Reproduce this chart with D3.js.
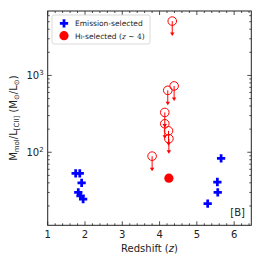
<!DOCTYPE html>
<html>
<head>
<meta charset="utf-8">
<script src="https://cdn.jsdelivr.net/npm/d3@7"></script>
<style>
body { margin: 0; background: #fff; }
text { font-family: "DejaVu Sans", sans-serif; fill: #222; }
</style>
</head>
<body>
<div id="chart"></div>
<script>
// emission-selected (blue crosses)
var emZ = [1.75, 1.86, 1.91, 1.82, 1.88, 1.95, 5.65, 5.55, 5.56, 5.29];
var emM = [53, 53, 40, 30, 27, 24.5, 83, 41, 30, 21.5];
// HI-selected upper limits (open circles + arrows)
var hiLimZ = [4.34, 4.39, 4.22, 4.14, 4.14, 4.24, 4.25, 3.8];
var hiLimM = [5100, 730, 640, 330, 235, 190, 150, 89];
// HI-selected detection
var hiDetZ = [4.25];
var hiDetM = [46];

var xTicks = [1, 2, 3, 4, 5, 6];
var yTicks = [100, 1000];

var W = 266, H = 266;
var pLeft = 47.7, pRight = 251.3, pTop = 11, pBottom = 225.3;

var svg = d3.select("#chart").append("svg")
    .attr("width", W)
    .attr("height", H);

var x = d3.scaleLinear().domain([1, 6.46]).range([pLeft, pRight]);
var y = d3.scaleLog().domain([11.2, 6900]).range([pBottom, pTop]);

// minor ticks
var xMinor = d3.range(1, 6.45, 0.2).filter(function(v) { return Math.abs(v - Math.round(v)) > 0.01; });
var yMinor = [];
[10, 100, 1000].forEach(function(d) {
    for (var k = 2; k <= 9; k++) {
        var v = d * k;
        if (v >= 11.2 && v <= 6900) yMinor.push(v);
    }
});

var ax = svg.append("g").attr("stroke", "#222").attr("stroke-width", 0.8);

function xTick(v, len) {
    ax.append("line").attr("x1", x(v)).attr("x2", x(v)).attr("y1", pBottom).attr("y2", pBottom - len);
    ax.append("line").attr("x1", x(v)).attr("x2", x(v)).attr("y1", pTop).attr("y2", pTop + len);
}
function yTick(v, len) {
    ax.append("line").attr("y1", y(v)).attr("y2", y(v)).attr("x1", pLeft).attr("x2", pLeft + len);
    ax.append("line").attr("y1", y(v)).attr("y2", y(v)).attr("x1", pRight).attr("x2", pRight - len);
}
xTicks.forEach(function(v) { xTick(v, 4); });
xMinor.forEach(function(v) { xTick(v, 2); });
yTicks.forEach(function(v) { yTick(v, 4); });
yMinor.forEach(function(v) { yTick(v, 2); });

svg.append("rect")
    .attr("x", pLeft).attr("y", pTop)
    .attr("width", pRight - pLeft).attr("height", pBottom - pTop)
    .attr("fill", "none").attr("stroke", "#222").attr("stroke-width", 1);

// tick labels
svg.selectAll(".xl").data(xTicks).enter().append("text")
    .attr("x", function(d) { return x(d); })
    .attr("y", pBottom + 13)
    .attr("text-anchor", "middle")
    .attr("font-size", 10)
    .text(function(d) { return d; });

svg.selectAll(".yl").data(yTicks).enter().append("text")
    .attr("x", pLeft - 4)
    .attr("y", function(d) { return y(d) + 3.5; })
    .attr("text-anchor", "end")
    .attr("font-size", 10)
    .each(function(d) {
        var t = d3.select(this);
        t.append("tspan").text("10");
        t.append("tspan").attr("dy", -4).attr("font-size", 7).text(Math.round(Math.log10(d)));
    });

// axis labels
svg.append("text")
    .attr("x", (pLeft + pRight) / 2)
    .attr("y", 252)
    .attr("text-anchor", "middle")
    .attr("font-size", 10)
    .each(function() {
        var t = d3.select(this);
        t.append("tspan").text("Redshift (");
        t.append("tspan").attr("font-style", "italic").text("z");
        t.append("tspan").text(")");
    });

var yl = svg.append("text")
    .attr("transform", "translate(17," + ((pTop + pBottom) / 2) + ") rotate(-90)")
    .attr("text-anchor", "middle")
    .attr("font-size", 10);
yl.append("tspan").text("M");
yl.append("tspan").attr("font-size", 7).attr("dy", 2).text("mol");
yl.append("tspan").attr("dy", -2).text("/L");
yl.append("tspan").attr("font-size", 7).attr("dy", 2).text("[CII]");
yl.append("tspan").attr("dy", -2).text(" (M");
yl.append("tspan").attr("font-size", 7).attr("dy", 2).text("\u2299");
yl.append("tspan").attr("dy", -2).text("/L");
yl.append("tspan").attr("font-size", 7).attr("dy", 2).text("\u2299");
yl.append("tspan").attr("dy", -2).text(")");

var plot = svg.append("g");

// upper limits
var lims = hiLimZ.map(function(z, i) { return {z: z, m: hiLimM[i]}; });
var arrowLen = 15;
lims.forEach(function(d) {
    var cx = x(d.z), cy = y(d.m);
    plot.append("line")
        .attr("x1", cx).attr("x2", cx)
        .attr("y1", cy).attr("y2", cy + arrowLen - 2)
        .attr("stroke", "#ff0000").attr("stroke-width", 1);
    plot.append("path")
        .attr("d", "M" + (cx - 2.2) + "," + (cy + arrowLen - 3.5) + "L" + (cx + 2.2) + "," + (cy + arrowLen - 3.5) + "L" + cx + "," + (cy + arrowLen) + "Z")
        .attr("fill", "#ff0000");
    plot.append("circle")
        .attr("cx", cx).attr("cy", cy).attr("r", 4.3)
        .attr("fill", "none").attr("stroke", "#ff0000").attr("stroke-width", 1);
});

plot.selectAll(".det").data(hiDetZ).enter().append("circle")
    .attr("cx", function(d) { return x(d); })
    .attr("cy", function(d, i) { return y(hiDetM[i]); })
    .attr("r", 4.6)
    .attr("fill", "#ff0000");

var cross = d3.symbol().type(d3.symbolCross).size(38);
plot.selectAll(".em").data(emZ).enter().append("path")
    .attr("d", cross)
    .attr("transform", function(d, i) { return "translate(" + x(d) + "," + y(emM[i]) + ")"; })
    .attr("fill", "#0000ff");

// legend
var lg = svg.append("g");
lg.append("rect")
    .attr("x", 52).attr("y", 15).attr("width", 98).attr("height", 29)
    .attr("rx", 2).attr("fill", "#fff").attr("fill-opacity", 0.8)
    .attr("stroke", "#d0d0d0").attr("stroke-width", 0.8);
lg.append("path").attr("d", cross).attr("transform", "translate(64,23.3)").attr("fill", "#0000ff");
lg.append("circle").attr("cx", 64).attr("cy", 35.7).attr("r", 4.6).attr("fill", "#ff0000");
lg.append("text").attr("x", 75).attr("y", 26).attr("font-size", 7.5).text("Emission-selected");
var l2 = lg.append("text").attr("x", 75).attr("y", 38.5).attr("font-size", 7.5);
l2.append("tspan").text("H");
l2.append("tspan").attr("font-size", 5.5).text("I");
l2.append("tspan").text("-selected ");
l2.append("tspan").attr("font-family", "DejaVu Serif, serif").text("(");
l2.append("tspan").attr("font-family", "DejaVu Serif, serif").attr("font-style", "italic").text("z");
l2.append("tspan").attr("font-family", "DejaVu Serif, serif").text(" \u223C 4)");

svg.append("text")
    .attr("x", 245).attr("y", 216)
    .attr("text-anchor", "end")
    .attr("font-size", 10)
    .text("[B]");
</script>
</body>
</html>
